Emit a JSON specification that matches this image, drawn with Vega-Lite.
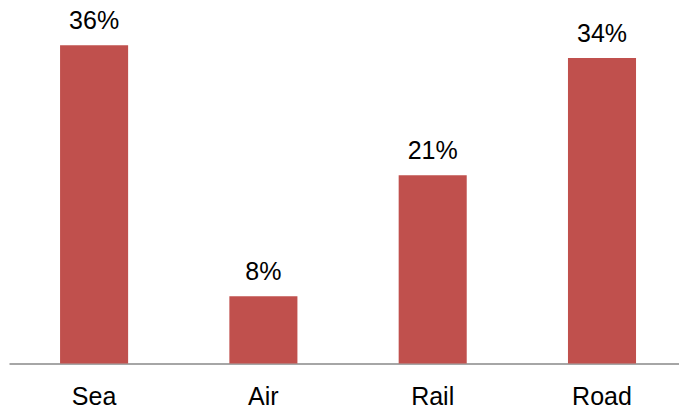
{
  "$schema": "https://vega.github.io/schema/vega-lite/v6.json",
  "autosize": {"type": "none"},
  "width": 670,
  "height": 358.5,
  "padding": {"left": 9, "top": 5, "right": 0, "bottom": 45},
  "background": "white",
  "config": {"view": {"stroke": null}, "font": "Liberation Sans"},
  "data": {"values": [
    {"mode": "Sea", "share": 35.5, "label": "36%"},
    {"mode": "Air", "share": 7.5, "label": "8%"},
    {"mode": "Rail", "share": 21.0, "label": "21%"},
    {"mode": "Road", "share": 34.1, "label": "34%"}
  ]},
  "encoding": {
    "x": {"field": "mode", "type": "nominal", "sort": null,
      "scale": {"paddingInner": 0.598, "paddingOuter": 0.2777, "align": 0.543},
      "axis": {"title": null, "ticks": false, "tickSize": 0, "labelAngle": 0, "labelFontSize": 25, "labelColor": "#000000", "labelFont": "Liberation Sans", "labelBaseline": "alphabetic", "labelPadding": 40.5, "domainColor": "#898989", "domainWidth": 1.5, "grid": false}},
    "y": {"field": "share", "type": "quantitative", "scale": {"domain": [0, 40]}, "axis": null}
  },
  "layer": [
    {"mark": {"type": "bar", "color": "#C0504D"}},
    {"mark": {"type": "text", "baseline": "alphabetic", "dy": -16, "fontSize": 25, "color": "#000000", "font": "Liberation Sans"},
     "encoding": {"text": {"field": "label"}}}
  ]
}
